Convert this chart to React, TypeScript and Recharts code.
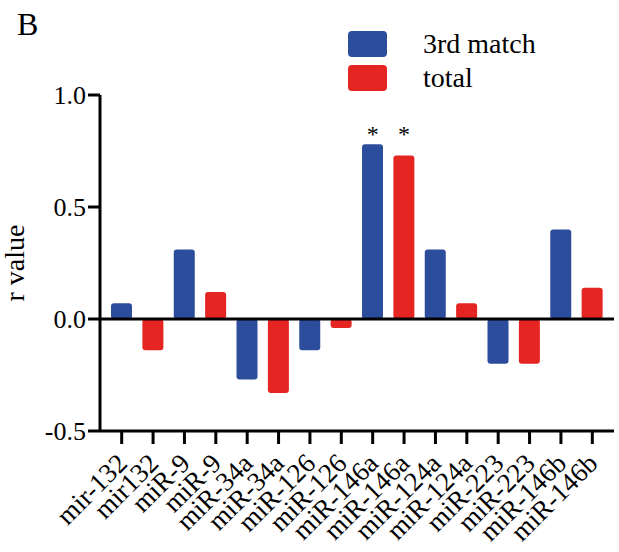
import React from "react";
import { Bar, BarChart, ReferenceDot, ReferenceLine, XAxis, YAxis } from "recharts";

const tickLabels = [
  "mir-132", "mir132", "miR-9", "miR-9", "miR-34a", "miR-34a", "miR-126", "miR-126",
  "miR-146a", "miR-146a", "miR-124a", "miR-124a", "miR-223", "miR-223", "miR-146b", "miR-146b"
];
const matchValues = [0.07, 0.31, -0.27, -0.14, 0.78, 0.31, -0.2, 0.4];
const totalValues = [-0.14, 0.12, -0.33, -0.04, 0.73, 0.07, -0.2, 0.14];
// indexes of bars marked significant, and the height the stars sit at
const sigBars = [8, 9];
const sigLevel = 0.83;
const yTicks = [-0.5, 0, 0.5, 1.0];

const BLUE = "#2c4d9c";
const RED = "#e42521";
const FONT = '"Liberation Serif", "Times New Roman", serif';

const data = tickLabels.map((label, i) => {
  const k = Math.floor(i / 2);
  const isMatch = i % 2 === 0;
  return {
    key: `${label}-${i}`,
    label,
    match: isMatch ? matchValues[k] : null,
    total: isMatch ? null : totalValues[k]
  };
});

function XTick({ x, y, payload }: any) {
  const row = data[payload.index];
  const ax = x + 7;
  const ay = y + 19;
  return (
    <text
      x={ax}
      y={ay}
      transform={`rotate(-45, ${ax}, ${ay})`}
      textAnchor="end"
      style={{ fontSize: 27, fontFamily: FONT, fill: "#000" }}
    >
      {row ? row.label : ""}
    </text>
  );
}

function YTick({ x, y, payload }: any) {
  return (
    <text x={x} y={y} dy={9} textAnchor="end" style={{ fontSize: 26, fontFamily: FONT, fill: "#000" }}>
      {Number(payload.value).toFixed(1)}
    </text>
  );
}

export default function App() {
  return (
    <div style={{ position: "absolute", left: 0, top: 0, width: 619, height: 552, background: "#fff", fontFamily: FONT }}>
      <div style={{ position: "absolute", left: 17, top: 6, fontSize: 32 }}>B</div>
      <div style={{ position: "absolute", left: 348, top: 27, fontSize: 28, lineHeight: "34px" }}>
        <div style={{ display: "flex", alignItems: "center", height: 34 }}>
          <span style={{ width: 39, height: 26, background: BLUE, borderRadius: 4, display: "inline-block" }} />
          <span style={{ marginLeft: 36 }}>3rd match</span>
        </div>
        <div style={{ display: "flex", alignItems: "center", height: 34 }}>
          <span style={{ width: 39, height: 26, background: RED, borderRadius: 4, display: "inline-block" }} />
          <span style={{ marginLeft: 36 }}>total</span>
        </div>
      </div>
      <BarChart
        width={619}
        height={552}
        data={data}
        margin={{ top: 95, right: 5, bottom: 0, left: 0 }}
        style={{ position: "absolute", left: 0, top: 0, fontFamily: FONT }}
      >
        <XAxis
          dataKey="key"
          interval={0}
          height={121}
          padding={{ left: 6, right: 6 }}
          tick={<XTick />}
          tickSize={13}
          tickMargin={2}
          axisLine={{ stroke: "#000", strokeWidth: 3 }}
          tickLine={{ stroke: "#000", strokeWidth: 3 }}
        />
        <YAxis
          width={100}
          domain={[-0.5, 1.0]}
          ticks={yTicks}
          interval={0}
          tickSize={12}
          tickMargin={2}
          tick={<YTick />}
          axisLine={{ stroke: "#000", strokeWidth: 3 }}
          tickLine={{ stroke: "#000", strokeWidth: 3 }}
          label={{
            value: "r value",
            angle: -90,
            position: "insideLeft",
            offset: 14,
            style: { textAnchor: "middle", fontSize: 28, fontFamily: FONT, fill: "#000" }
          }}
        />
        <ReferenceLine y={0} stroke="#000" strokeWidth={3} />
        <Bar dataKey="match" stackId="r" fill={BLUE} barSize={21} radius={3} isAnimationActive={false} />
        <Bar dataKey="total" stackId="r" fill={RED} barSize={21} radius={3} isAnimationActive={false} />
        {sigBars.map((i) => (
          <ReferenceDot
            key={i}
            x={data[i].key}
            y={sigLevel}
            r={0}
            stroke="none"
            label={{ value: "*", position: "center", style: { fontSize: 24, fontFamily: FONT, fill: "#000" } }}
          />
        ))}
      </BarChart>
    </div>
  );
}
